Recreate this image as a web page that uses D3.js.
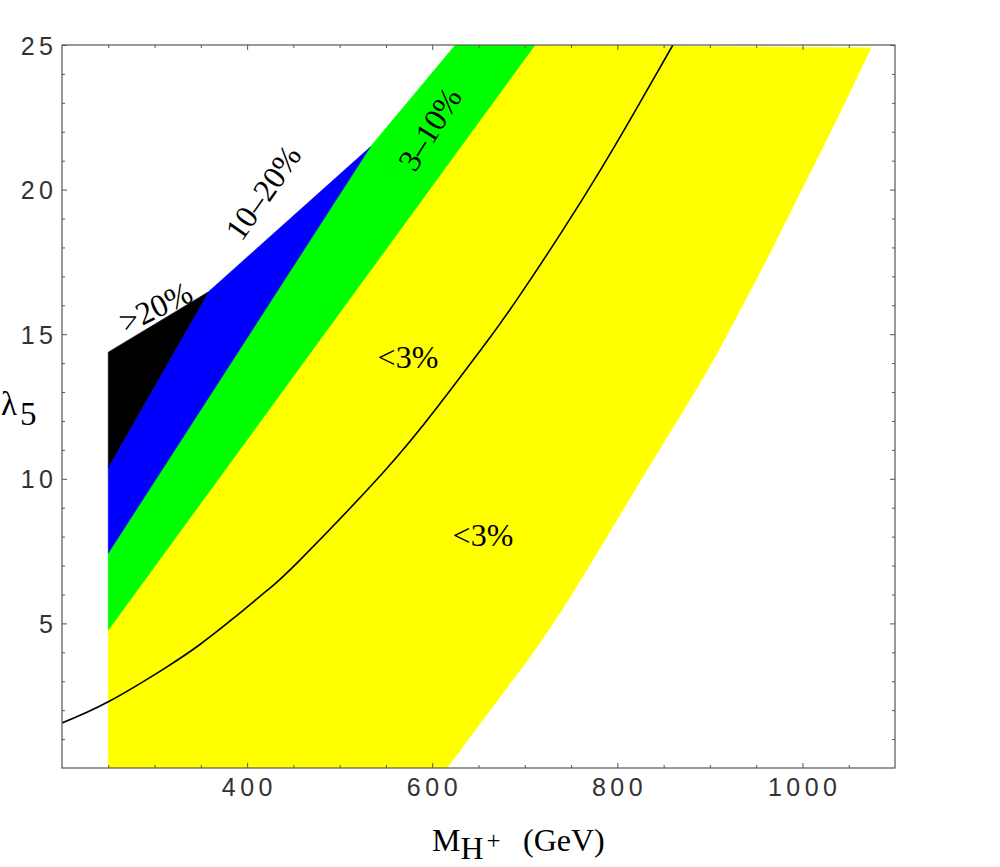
<!DOCTYPE html>
<html>
<head>
<meta charset="utf-8">
<script src="https://cdn.jsdelivr.net/npm/d3@7"></script>
<style>
    html, body { margin: 0; padding: 0; background: #fff; }
    .tick-label { font-family: "Liberation Sans", Arial, sans-serif; font-size: 25px; fill: #333; letter-spacing: 4.5px; }
    .region-label, .axis-title { font-family: "Liberation Serif", "Times New Roman", serif; font-size: 32px; fill: #000; }
</style>
</head>
<body>
<div id="chart"></div>
<script>
(function () {

    // tick values
    var massTicks    = [400, 600, 800, 1000];
    var lambdaTicks  = [5, 10, 15, 20, 25];

    // regions, as [M_H+, lambda5] outlines
    var yellowBand = [[250, 0], [250, 4.77], [711, 25], [1074, 24.9]];
    var yellowEdge = [[1074, 24.9], [1033, 22.17], [997, 19.87], [961, 17.57], [925, 15.38],
                      [889, 13.3], [817, 9.51], [735, 5.22], [673, 2.45], [616, 0]];
    var greenBand  = [[250, 4.77], [250, 7.43], [533, 21.47], [625, 25], [711, 25]];
    var blueBand   = [[250, 7.43], [250, 10.4], [358, 16.46], [533, 21.47]];
    var blackBand  = [[250, 10.4], [250, 14.38], [358, 16.46]];

    // solid contour line
    var curveMass   = [200, 250, 313, 349, 385, 422, 457, 547, 606, 654, 692, 742, 782, 817, 860];
    var curveLambda = [1.56, 2.29, 3.49, 4.27, 5.17, 6.15, 7.19, 10.22, 12.5, 14.52, 16.22, 18.64, 20.69, 22.59, 25];

    // in-plot labels
    var labels = [
        { text: ">20%",  m: 301, l: 15.95, rot: -26, anchor: "middle" },
        { text: "10\u201320%", m: 417, l: 19.9, rot: -55, anchor: "middle" },
        { text: "3\u201310%",  m: 597, l: 22.1, rot: -58, anchor: "middle" },
        { text: "<3%",  m: 541, l: 13.83, rot: 0, anchor: "start" },
        { text: "<3%",  m: 622, l: 7.68, rot: 0, anchor: "start" }
    ];

    var W = 1000, H = 867;
    var margin = { top: 45, right: 105, bottom: 99, left: 62 };
    var iW = W - margin.left - margin.right;
    var iH = H - margin.top - margin.bottom;

    var svg = d3.select("#chart").append("svg")
        .attr("width", W).attr("height", H);

    var g = svg.append("g")
        .attr("transform", "translate(" + margin.left + "," + margin.top + ")");

    var x = d3.scaleLinear().domain([200, 1100]).range([0, iW]);
    var y = d3.scaleLinear().domain([0, 25]).range([iH, 0]);

    g.append("defs").append("clipPath")
        .attr("id", "clip-plot")
        .append("rect")
        .attr("width", iW).attr("height", iH);

    /* regions */
    var straight = d3.line()
        .x(function (d) { return x(d[0]); })
        .y(function (d) { return y(d[1]); });
    var smooth = d3.line()
        .x(function (d) { return x(d[0]); })
        .y(function (d) { return y(d[1]); })
        .curve(d3.curveNatural);

    // yellow: straight left/top sides, curved right edge
    var yellowPath = straight(yellowBand) + smooth(yellowEdge).replace(/^M/, "L") + "Z";

    [
        { d: yellowPath,                color: "#ffff00" },
        { d: straight(greenBand) + "Z", color: "#00ff00" },
        { d: straight(blueBand) + "Z",  color: "#0000ff" },
        { d: straight(blackBand) + "Z", color: "#000000" }
    ].forEach(function (r) {
        g.append("path")
            .attr("clip-path", "url(#clip-plot)")
            .attr("d", r.d)
            .attr("fill", r.color)
            .attr("stroke", r.color)
            .attr("stroke-width", 0.6)
            .attr("stroke-linejoin", "round");
    });

    /* contour */
    var contour = curveMass.map(function (m, i) { return [m, curveLambda[i]]; });
    g.append("path")
        .attr("clip-path", "url(#clip-plot)")
        .datum(contour)
        .attr("fill", "none")
        .attr("stroke", "#000")
        .attr("stroke-width", 1.6)
        .attr("d", smooth);

    /* frame + ticks (inward on all four sides) */
    var minorX = d3.range(250, 1100, 50).filter(function (v) { return massTicks.indexOf(v) < 0; });
    var minorY = d3.range(1, 25, 1).filter(function (v) { return lambdaTicks.indexOf(v) < 0; });

    function ticks(axisFn, scale, vals, size, tr) {
        var a = g.append("g")
            .attr("transform", tr)
            .call(axisFn(scale).tickValues(vals).tickSize(-size).tickFormat(""));
        a.select(".domain").remove();
        a.selectAll("line").attr("stroke", "#555").attr("stroke-width", 1);
    }

    ticks(d3.axisBottom, x, massTicks, 5, "translate(0," + iH + ")");
    ticks(d3.axisBottom, x, minorX, 3, "translate(0," + iH + ")");
    ticks(d3.axisTop, x, massTicks, 5, "translate(0,0)");
    ticks(d3.axisTop, x, minorX, 3, "translate(0,0)");
    ticks(d3.axisLeft, y, lambdaTicks, 5, "translate(0,0)");
    ticks(d3.axisLeft, y, minorY, 3, "translate(0,0)");
    ticks(d3.axisRight, y, lambdaTicks, 5, "translate(" + iW + ",0)");
    ticks(d3.axisRight, y, minorY, 3, "translate(" + iW + ",0)");

    g.append("rect")
        .attr("width", iW).attr("height", iH)
        .attr("fill", "none")
        .attr("stroke", "#555")
        .attr("stroke-width", 1.2);

    // tick labels
    g.selectAll(".xlab").data(massTicks).enter().append("text")
        .attr("class", "tick-label")
        .attr("x", function (d) { return x(d) + 2.25; })
        .attr("y", iH + 28)
        .attr("text-anchor", "middle")
        .text(function (d) { return d; });

    g.selectAll(".ylab").data(lambdaTicks).enter().append("text")
        .attr("class", "tick-label")
        .attr("x", -4.5)
        .attr("y", function (d) { return y(d) + 9.5; })
        .attr("text-anchor", "end")
        .text(function (d) { return d; });

    /* region labels */
    labels.forEach(function (d) {
        g.append("text")
            .attr("class", "region-label")
            .attr("transform", "translate(" + x(d.m) + "," + y(d.l) + ") rotate(" + d.rot + ")")
            .attr("text-anchor", d.anchor)
            .attr("dy", d.rot ? "0.35em" : 0)
            .text(d.text);
    });

    /* axis titles */
    var xt = svg.append("text")
        .attr("class", "axis-title")
        .attr("x", 432).attr("y", 851);
    xt.append("tspan").text("M");
    xt.append("tspan").attr("dy", 8).text("H");
    xt.append("tspan").attr("dx", 3).attr("dy", -10).style("font-size", "25px").text("+");
    xt.append("tspan").attr("x", 523).attr("y", 851).text("(GeV)");

    var yt = svg.append("text")
        .attr("class", "axis-title")
        .style("font-size", "33px")
        .attr("x", 1).attr("y", 415);
    yt.append("tspan").text("\u03bb");
    yt.append("tspan").attr("dx", 3).attr("dy", 10).text("5");

}());
</script>
</body>
</html>
